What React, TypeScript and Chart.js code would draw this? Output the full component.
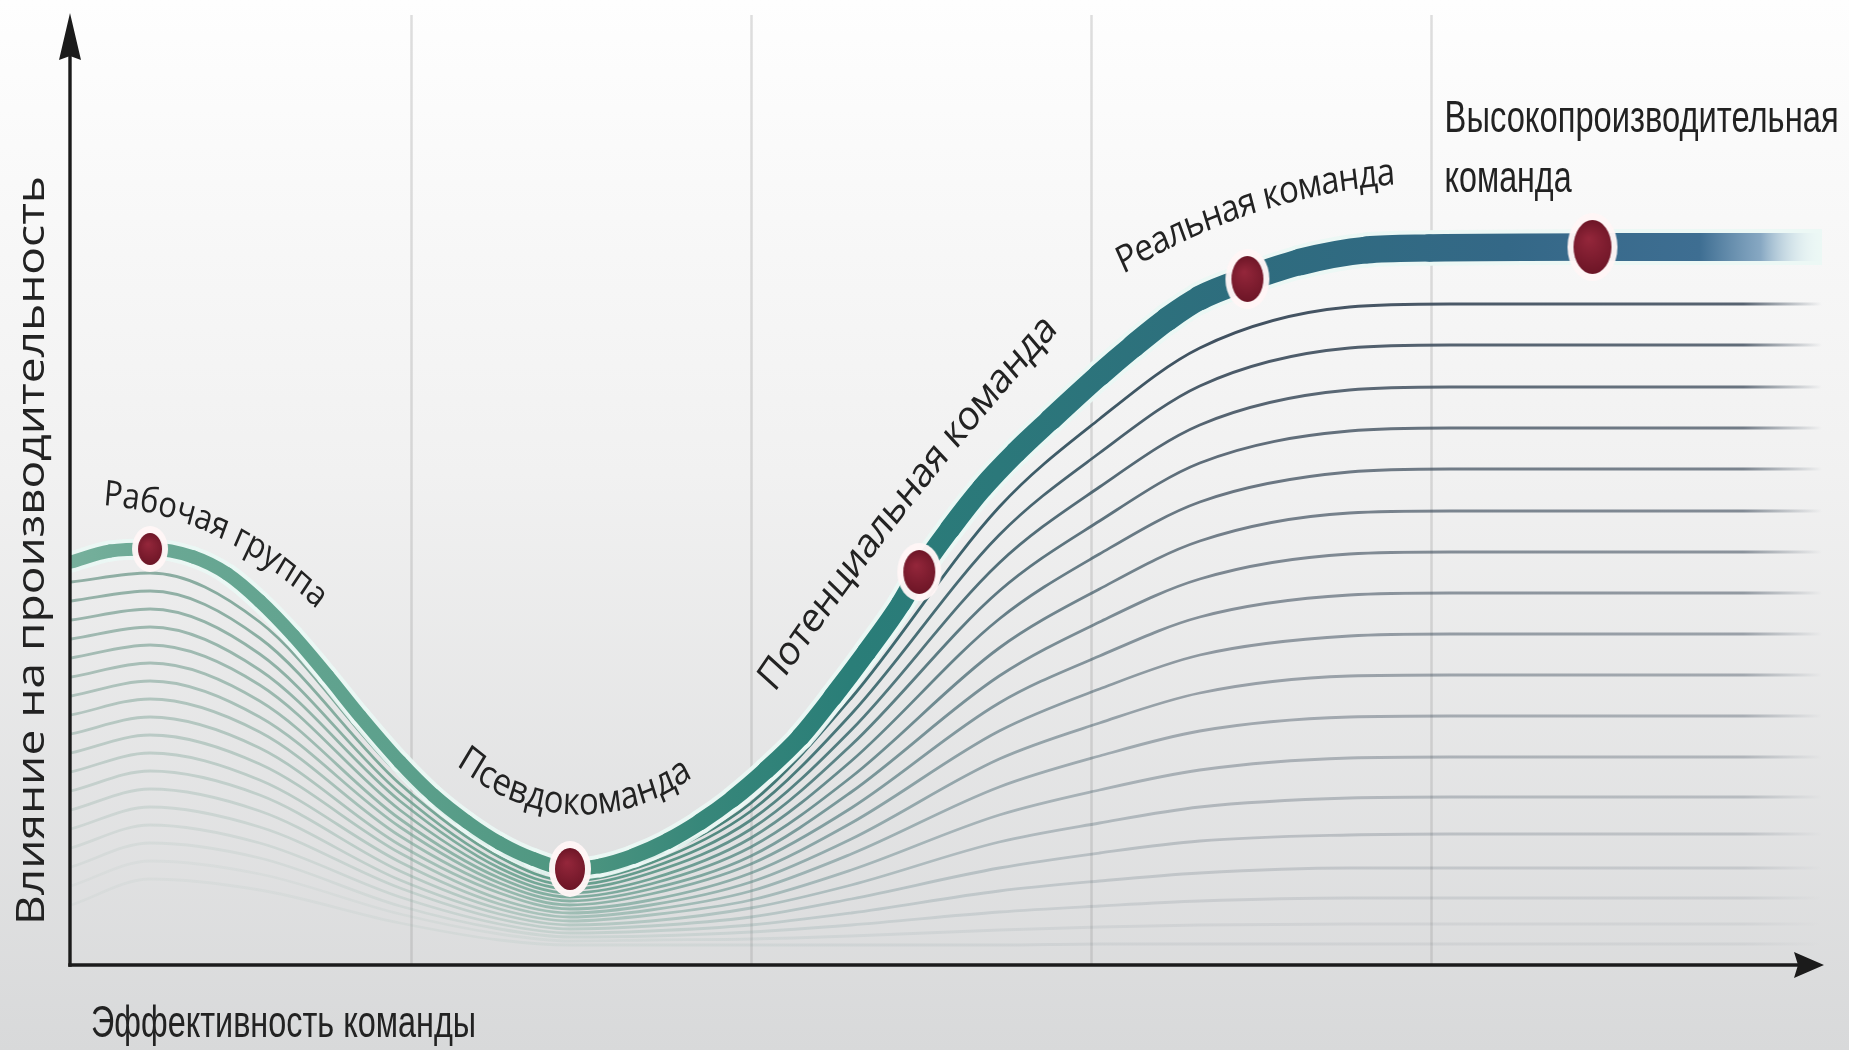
import React, { useEffect, useRef } from 'react';
import { Chart, registerables } from 'chart.js';

Chart.register(...registerables);

// ---- data (x: team effectiveness, y: impact on performance; arbitrary units) ----
const MAIN_X = [0, 2.3, 4.65, 7.2, 9.2, 11.1, 13.1, 15.1, 17.0, 19.35, 21.3, 23.3, 25.2, 27.2, 29.35, 31.1, 33.1, 35.1, 37.0, 38.9, 40.9, 42.9, 44.8, 46.8, 48.8, 49.9, 51.7, 53.6, 55.6, 57.6, 60.5, 62.5, 64.5, 66.4, 69.2, 72.3, 76.2, 79.9, 89.9, 103];
const MAIN_Y = [40.3, 41.4, 41.6, 40.8, 39.1, 36.4, 32.9, 28.9, 24.9, 20.3, 17.0, 14.3, 12.2, 10.6, 9.6, 9.9, 10.9, 12.4, 14.3, 16.6, 19.5, 22.8, 26.8, 31.3, 36.1, 39.3, 43.6, 47.7, 51.3, 54.5, 59.0, 61.9, 64.6, 66.7, 68.6, 70.3, 71.5, 71.7, 71.8, 71.8];

const STAGE_NAMES = ['Рабочая группа', 'Псевдокоманда', 'Потенциальная команда', 'Реальная команда', 'Высокопроизводительная команда'];
const STAGE_X = [4.65, 29.35, 49.9, 69.2, 89.5];
const STAGE_Y = [41.6, 9.6, 39.3, 68.6, 71.8];

const LOWER_X = [0, 4.65, 11.1, 19.35, 25.2, 29.35, 34.1, 40, 45.9, 54.6, 60.5, 66.4, 75.2, 81.1, 103];
const LINE_01 = [38.3, 39.2, 34.3, 19.0, 11.3, 8.8, 10.7, 16.2, 26.7, 45.8, 54.6, 61.7, 65.8, 66.1, 66.1];
const LINE_02 = [36.4, 37.4, 32.7, 18.1, 10.8, 8.4, 10.2, 15.4, 25.1, 43.0, 51.2, 57.9, 61.7, 62.0, 62.0];
const LINE_03 = [34.5, 35.6, 31.1, 17.2, 10.2, 8.0, 9.7, 14.5, 23.5, 40.2, 47.8, 54.0, 57.5, 57.8, 57.8];
const LINE_04 = [32.6, 33.8, 29.5, 16.4, 9.7, 7.6, 9.2, 13.6, 22.0, 37.4, 44.4, 50.2, 53.4, 53.7, 53.7];
const LINE_05 = [30.7, 32.0, 28.0, 15.5, 9.2, 7.2, 8.6, 12.7, 20.4, 34.6, 41.1, 46.3, 49.3, 49.6, 49.6];
const LINE_06 = [28.8, 30.2, 26.4, 14.6, 8.7, 6.8, 8.1, 11.8, 18.8, 31.7, 37.6, 42.4, 45.2, 45.4, 45.4];
const LINE_07 = [26.9, 28.4, 24.8, 13.8, 8.2, 6.4, 7.6, 10.9, 17.3, 28.9, 34.3, 38.6, 41.1, 41.3, 41.3];
const LINE_08 = [25.0, 26.6, 23.3, 12.9, 7.7, 6.0, 7.1, 10.1, 15.7, 26.2, 30.9, 34.8, 37.0, 37.2, 37.2];
const LINE_09 = [23.1, 24.8, 21.7, 12.0, 7.2, 5.6, 6.5, 9.2, 14.2, 23.4, 27.6, 31.0, 32.9, 33.1, 33.1];
const LINE_10 = [21.2, 23.0, 20.1, 11.2, 6.6, 5.2, 6.0, 8.3, 12.6, 20.6, 24.2, 27.2, 28.9, 29.0, 29.0];
const LINE_11 = [19.3, 21.2, 18.5, 10.3, 6.1, 4.8, 5.5, 7.4, 11.1, 17.8, 20.9, 23.4, 24.8, 24.9, 24.9];
const LINE_12 = [17.4, 19.4, 17.0, 9.4, 5.6, 4.4, 5.0, 6.5, 9.5, 15.0, 17.5, 19.5, 20.7, 20.8, 20.8];
const LINE_13 = [15.5, 17.6, 15.4, 8.5, 5.1, 4.0, 4.4, 5.7, 8.0, 12.3, 14.2, 15.8, 16.7, 16.8, 16.8];
const LINE_14 = [13.6, 15.8, 13.8, 7.7, 4.6, 3.6, 3.9, 4.8, 6.6, 9.7, 11.2, 12.4, 13.0, 13.1, 13.1];
const LINE_15 = [11.7, 14.0, 12.2, 6.8, 4.1, 3.2, 3.4, 4.0, 5.2, 7.4, 8.4, 9.2, 9.7, 9.7, 9.7];
const LINE_16 = [9.8, 12.2, 10.7, 5.9, 3.6, 2.8, 2.9, 3.3, 4.0, 5.3, 5.9, 6.4, 6.7, 6.7, 6.7];
const LINE_17 = [7.9, 10.4, 9.1, 5.1, 3.1, 2.4, 2.5, 2.6, 2.9, 3.5, 3.8, 4.0, 4.1, 4.1, 4.1];
const LINE_18 = [6.0, 8.6, 7.5, 4.2, 2.5, 2.0, 2.0, 2.0, 2.0, 2.0, 2.1, 2.1, 2.1, 2.1, 2.1];
const LOWER_LINES = [LINE_01, LINE_02, LINE_03, LINE_04, LINE_05, LINE_06, LINE_07, LINE_08, LINE_09, LINE_10, LINE_11, LINE_12, LINE_13, LINE_14, LINE_15, LINE_16, LINE_17, LINE_18];

const GRID_X = [20, 40, 60, 80];
const X_TITLE = 'Эффективность команды';
const Y_TITLE = 'Влияние на производительность';

// ---- styling / placement (not data) ----
const STRETCH = 1.15;
const TEXT_COLOR = '#222222';
const CURVED_LABELS = [
  { i: 0, x: 1.88, y: 46.0, a0: 4, a1: 42, len: 237, size: 31 },
  { i: 1, x: 22.65, y: 20.0, a0: 38, a1: -33, len: 253, size: 33 },
  { i: 2, x: 41.4, y: 27.2, a0: -52, a1: -44, len: 424, size: 36 },
  { i: 3, x: 61.9, y: 69.1, a0: -28, a1: -4, len: 285, size: 33 },
];
const DOT_SIZES = [[24, 32], [30, 42], [32, 44], [32, 46], [38, 54]];
const WIDTH_STOPS = [[0, 13], [29, 14], [45, 19], [55, 21], [66, 24], [75, 27], [103, 28]];

function mainWidth(x: number) {
  for (let i = 1; i < WIDTH_STOPS.length; i++) {
    const [x0, w0] = WIDTH_STOPS[i - 1];
    const [x1, w1] = WIDTH_STOPS[i];
    if (x <= x1) return w0 + ((x - x0) / (x1 - x0)) * (w1 - w0);
  }
  return WIDTH_STOPS[WIDTH_STOPS.length - 1][1];
}

function mainGradient(chart: any) {
  const { ctx, chartArea } = chart;
  if (!chartArea) return '#2f7f7b';
  const g = ctx.createLinearGradient(chartArea.left, 0, chartArea.right, 0);
  g.addColorStop(0, 'rgb(118,176,156)');
  g.addColorStop(0.05, 'rgb(106,168,148)');
  g.addColorStop(0.19, 'rgb(92,160,140)');
  g.addColorStop(0.285, 'rgb(78,150,128)');
  g.addColorStop(0.36, 'rgb(55,135,122)');
  g.addColorStop(0.445, 'rgb(42,126,120)');
  g.addColorStop(0.53, 'rgb(43,120,122)');
  g.addColorStop(0.675, 'rgb(46,108,126)');
  g.addColorStop(0.82, 'rgb(52,104,135)');
  g.addColorStop(0.93, 'rgb(62,110,146)');
  g.addColorStop(0.965, 'rgba(110,148,182,0.8)');
  g.addColorStop(1, 'rgba(235,242,248,0)');
  return g;
}

function lowerGradient(chart: any, a: number) {
  const { ctx, chartArea } = chart;
  if (!chartArea) return `rgba(70,110,110,${a})`;
  const g = ctx.createLinearGradient(chartArea.left, 0, chartArea.right, 0);
  g.addColorStop(0, `rgba(124,160,148,${a * 0.85})`);
  g.addColorStop(0.15, `rgba(110,158,142,${a * 0.9})`);
  g.addColorStop(0.27, `rgba(86,152,130,${a})`);
  g.addColorStop(0.34, `rgba(72,138,122,${a})`);
  g.addColorStop(0.42, `rgba(56,108,110,${a})`);
  g.addColorStop(0.52, `rgba(52,88,100,${a})`);
  g.addColorStop(0.66, `rgba(55,72,88,${a})`);
  g.addColorStop(0.955, `rgba(60,74,90,${a * 0.9})`);
  g.addColorStop(1, 'rgba(70,84,100,0)');
  return g;
}

function makeDot(w: number, h: number) {
  const pad = 9;
  const c = document.createElement('canvas');
  c.width = Math.round(w + pad * 2);
  c.height = Math.round(h + pad * 2);
  const g = c.getContext('2d')!;
  const cx = c.width / 2, cy = c.height / 2;
  g.fillStyle = 'rgba(255,246,246,0.97)';
  g.beginPath();
  g.ellipse(cx, cy, w / 2 + 6, h / 2 + 7, 0, 0, Math.PI * 2);
  g.fill();
  const rg = g.createRadialGradient(cx - w * 0.1, cy - h * 0.15, 1, cx, cy, h / 2);
  rg.addColorStop(0, '#93263a');
  rg.addColorStop(1, '#6c1526');
  g.fillStyle = rg;
  g.beginPath();
  g.ellipse(cx, cy, w / 2, h / 2, 0, 0, Math.PI * 2);
  g.fill();
  return c;
}

function arcText(ctx: CanvasRenderingContext2D, text: string, x0: number, y0: number, a0: number, a1: number, len: number, font: string) {
  ctx.save();
  ctx.translate(x0, y0);
  ctx.scale(1, STRETCH);
  ctx.font = font;
  ctx.fillStyle = TEXT_COLOR;
  ctx.textBaseline = 'alphabetic';
  ctx.textAlign = 'left';
  const chars = Array.from(text);
  const ws = chars.map((ch) => ctx.measureText(ch).width);
  const total = ws.reduce((s, w) => s + w, 0);
  const f = len / total;
  const r0 = (a0 * Math.PI) / 180;
  const r1 = (a1 * Math.PI) / 180;
  const k = (r1 - r0) / len;
  let x = 0, y = 0, a = r0;
  chars.forEach((ch, i) => {
    const adv = ws[i] * f;
    const am = a + (k * adv) / 2;
    ctx.save();
    ctx.translate(x, y);
    ctx.rotate(am);
    ctx.fillText(ch, (adv - ws[i]) / 2, 0);
    ctx.restore();
    x += adv * Math.cos(am);
    y += adv * Math.sin(am);
    a += k * adv;
  });
  ctx.restore();
}

function fitText(ctx: CanvasRenderingContext2D, text: string, x: number, y: number, font: string, width: number, sy: number, rot = 0) {
  ctx.save();
  ctx.translate(x, y);
  if (rot) ctx.rotate(rot);
  ctx.font = font;
  const w = ctx.measureText(text).width;
  ctx.scale(width / w, sy);
  ctx.fillStyle = TEXT_COLOR;
  ctx.textBaseline = 'alphabetic';
  ctx.textAlign = 'left';
  ctx.fillText(text, 0, 0);
  ctx.restore();
}

const decorPlugin = {
  id: 'decor',
  beforeDraw(chart: any) {
    const { ctx, width, height } = chart;
    const g = ctx.createLinearGradient(0, 0, 0, height);
    g.addColorStop(0, '#fefefe');
    g.addColorStop(0.45, '#f1f1f1');
    g.addColorStop(1, '#d8d9da');
    ctx.save();
    ctx.fillStyle = g;
    ctx.fillRect(0, 0, width, height);
    ctx.restore();
  },
  beforeDatasetsDraw(chart: any) {
    const { ctx, chartArea, scales } = chart;
    ctx.save();
    ctx.strokeStyle = 'rgba(150,150,150,0.3)';
    ctx.lineWidth = 2.5;
    GRID_X.forEach((v) => {
      const px = Math.round(scales.x.getPixelForValue(v)) + 0.5;
      ctx.beginPath();
      ctx.moveTo(px, chartArea.top);
      ctx.lineTo(px, chartArea.bottom);
      ctx.stroke();
    });
    ctx.restore();
  },
  afterDatasetsDraw(chart: any) {
    const { ctx, chartArea, scales } = chart;
    const xs = scales.x, ys = scales.y;
    const L = xs.getPixelForValue(0) - 1;
    const B = ys.getPixelForValue(0);
    ctx.save();
    ctx.strokeStyle = '#1b1b1b';
    ctx.fillStyle = '#1b1b1b';
    ctx.lineWidth = 3.4;
    ctx.beginPath();
    ctx.moveTo(L, B + 1.7);
    ctx.lineTo(L, chartArea.top + 40);
    ctx.stroke();
    ctx.beginPath();
    ctx.moveTo(L - 1.7, B);
    ctx.lineTo(chartArea.right - 20, B);
    ctx.stroke();
    ctx.beginPath();
    ctx.moveTo(L, chartArea.top - 2);
    ctx.lineTo(L - 11, chartArea.top + 45);
    ctx.lineTo(L, chartArea.top + 41);
    ctx.lineTo(L + 11, chartArea.top + 45);
    ctx.closePath();
    ctx.fill();
    ctx.beginPath();
    ctx.moveTo(chartArea.right + 2, B);
    ctx.lineTo(chartArea.right - 28, B - 13);
    ctx.lineTo(chartArea.right - 24, B);
    ctx.lineTo(chartArea.right - 28, B + 13);
    ctx.closePath();
    ctx.fill();
    ctx.restore();

    CURVED_LABELS.forEach((l) => {
      arcText(ctx, STAGE_NAMES[l.i], xs.getPixelForValue(l.x), ys.getPixelForValue(l.y), l.a0, l.a1, l.len, `${l.size}px "Open Sans", "DejaVu Sans", sans-serif`);
    });
    const parts = STAGE_NAMES[4].split(' ');
    const narrow = '38px "Liberation Sans Narrow", "Liberation Sans", sans-serif';
    fitText(ctx, parts[0], xs.getPixelForValue(80.8), ys.getPixelForValue(83.3), narrow, 394, STRETCH);
    fitText(ctx, parts[1], xs.getPixelForValue(80.8), ys.getPixelForValue(77.3), narrow, 127, STRETCH);
    fitText(ctx, X_TITLE, xs.getPixelForValue(1.18), ys.getPixelForValue(-7.2), '39px "Liberation Sans Narrow", "Liberation Sans", sans-serif', 385, STRETCH);
    fitText(ctx, Y_TITLE, xs.getPixelForValue(-1.6), ys.getPixelForValue(4.0), '38px "Open Sans", "DejaVu Sans", sans-serif', 749, 1, -Math.PI / 2);
  },
};

export default function App() {
  const canvasRef = useRef<HTMLCanvasElement | null>(null);

  useEffect(() => {
    const canvas = canvasRef.current;
    if (!canvas) return;
    const mainPts = MAIN_X.map((x, i) => ({ x, y: MAIN_Y[i] }));
    const segW = (c: any, extra: number) => mainWidth((c.p0.parsed.x + c.p1.parsed.x) / 2) + extra;

    const lowerSets = LOWER_LINES.map((ys, i) => {
      const a = Math.max(0.08, 0.95 - i * 0.055);
      return {
        data: LOWER_X.map((x, j) => ({ x, y: ys[j] })),
        borderColor: (c: any) => lowerGradient(c.chart, a),
        borderWidth: 2.8,
        pointRadius: 0,
        fill: false,
        cubicInterpolationMode: 'monotone' as const,
        order: 10 + i,
      };
    });

    const dotStyles = DOT_SIZES.map(([w, h]) => makeDot(w, h));

    const chart = new Chart(canvas, {
      type: 'line',
      data: {
        datasets: [
          {
            data: STAGE_X.map((x, i) => ({ x, y: STAGE_Y[i] })),
            showLine: false,
            pointStyle: dotStyles as any,
            pointRadius: 14,
            order: 0,
          } as any,
          {
            data: mainPts,
            borderColor: (c: any) => mainGradient(c.chart),
            borderWidth: 14,
            borderCapStyle: 'round',
            segment: { borderWidth: (c: any) => segW(c, 0) },
            pointRadius: 0,
            fill: false,
            cubicInterpolationMode: 'monotone',
            order: 1,
          } as any,
          {
            data: mainPts,
            borderColor: 'rgba(234,247,244,0.92)',
            borderWidth: 20,
            borderCapStyle: 'round',
            segment: { borderWidth: (c: any) => segW(c, 8) },
            pointRadius: 0,
            fill: false,
            cubicInterpolationMode: 'monotone',
            order: 2,
          } as any,
          ...lowerSets,
        ],
      },
      options: {
        responsive: false,
        devicePixelRatio: 1,
        animation: false,
        events: [],
        layout: { padding: { left: 71, right: 27, top: 15, bottom: 85 } },
        plugins: { legend: { display: false }, tooltip: { enabled: false }, title: { display: false } },
        scales: {
          x: { type: 'linear', min: 0, max: 103, display: false },
          y: { type: 'linear', min: 0, max: 95, display: false },
        },
      },
      plugins: [decorPlugin],
    } as any);

    let alive = true;
    if ((document as any).fonts && (document as any).fonts.ready) {
      (document as any).fonts.ready.then(() => { if (alive) chart.draw(); });
    }
    return () => {
      alive = false;
      chart.destroy();
    };
  }, []);

  return (
    <div style={{ position: 'absolute', left: 0, top: 0, width: 1849, height: 1050 }}>
      <canvas ref={canvasRef} width={1849} height={1050} style={{ display: 'block', width: 1849, height: 1050 }} />
    </div>
  );
}
